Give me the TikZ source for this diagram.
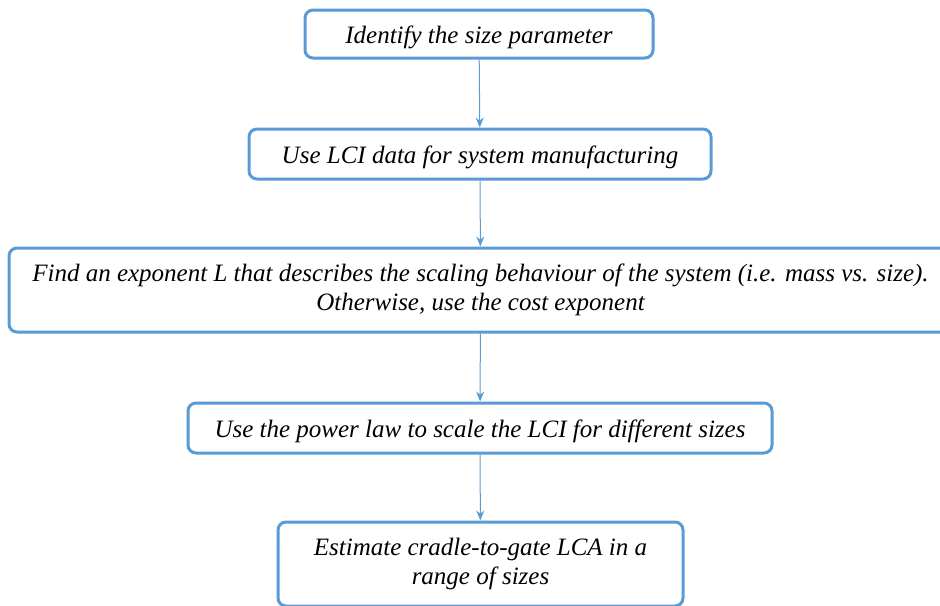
\documentclass[tikz,border=0pt]{standalone}
\usepackage{fontspec}
\setmainfont{Liberation Serif}[ItalicFont={Liberation Serif Italic}]
\usetikzlibrary{arrows.meta}
\definecolor{boxblue}{RGB}{91,155,213}
\begin{document}
\begin{tikzpicture}[x=0.5pt, y=-0.5pt,
    box/.style={draw=boxblue, line width=1.5pt, rounded corners=4pt, align=center,
        inner sep=0pt, font=\itshape\fontsize{12.5}{14.5}\selectfont,
        execute at begin node={\rule{0pt}{12pt}}},
    twoline/.style={box, execute at begin node={\rule{0pt}{15pt}}},
    flow/.style={draw=boxblue, line width=0.5pt, -{Stealth[length=5pt, width=4pt]}}]
    \useasboundingbox (0,0) rectangle (940,605);
    \clip (0,0) rectangle (940,605);
    % the five steps, top to bottom
    \node[box, minimum width=174pt, minimum height=24pt] (idsize) at (479,34) {Identify the size parameter};
    \node[box, minimum width=231pt, minimum height=25pt] (lcidata) at (480,154) {Use LCI data for system manufacturing};
    \node[twoline, minimum width=471.5pt, minimum height=42pt] (expo) at (480.5,290)
        {Find an exponent L that describes the scaling behaviour of the system (i.e. mass vs. size).\\
         Otherwise, use the cost exponent};
    \node[box, minimum width=292pt, minimum height=25pt] (powlaw) at (480,428) {Use the power law to scale the LCI for different sizes};
    \node[twoline, minimum width=202.5pt, minimum height=42pt] (estim) at (480.5,564)
        {Estimate cradle-to-gate LCA in a\\ range of sizes};
    % connectors
    \draw[flow] (idsize) -- (lcidata);
    \draw[flow] (lcidata) -- (expo);
    \draw[flow] (expo) -- (powlaw);
    \draw[flow] (powlaw) -- (estim);
\end{tikzpicture}
\end{document}
